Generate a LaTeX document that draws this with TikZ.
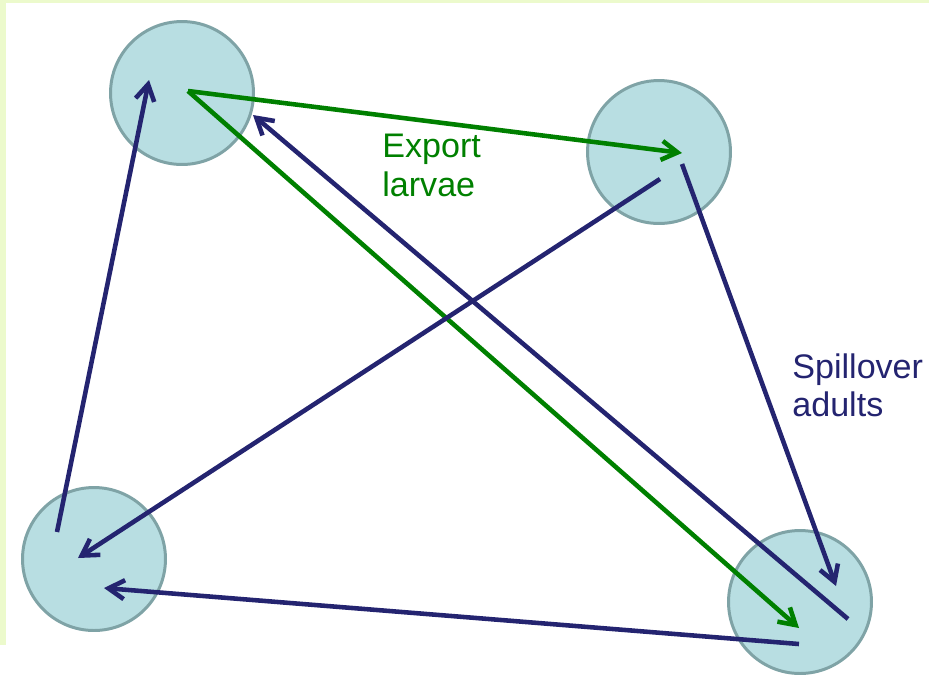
\documentclass[tikz,border=0pt]{standalone}
\usepackage{fontspec}
\setmainfont{Liberation Sans}
\usetikzlibrary{arrows.meta}
\definecolor{patchfill}{RGB}{184,222,226}
\definecolor{patchedge}{RGB}{127,163,166}
\definecolor{adultnavy}{RGB}{36,36,112}
\definecolor{larvagreen}{RGB}{0,128,0}
\definecolor{bandgreen}{RGB}{236,250,204}

\tikzset{
  patch/.style={circle, fill=patchfill, draw=patchedge, line width=1.7pt,
    minimum size=\patchsize, inner sep=0pt},
  adultflow/.style={adultnavy, line width=2.6pt, -{Straight Barb[length=3.2mm,width=3.8mm]}},
  larvaflow/.style={larvagreen, line width=2.6pt, -{Straight Barb[length=3.2mm,width=3.8mm]}},
  flowlabel/.style={anchor=base west, inner sep=0pt, align=left,
    font=\fontsize{19.4}{19.4}\selectfont}
}

\begin{document}
\begin{tikzpicture}[x=0.02cm, y=-0.02cm]

  % Parameters
  \def\patchsize{2.86cm}
  \useasboundingbox (0,0) rectangle (929,674);

  % slide border
  \fill[bandgreen] (0,0) rectangle (929,3);
  \fill[bandgreen] (0,0) rectangle (6,645);

  % patches
  \node[patch] (nw) at (182,93) {};
  \node[patch] (ne) at (659,152) {};
  \node[patch] (sw) at (94,559) {};
  \node[patch] (se) at (800,602) {};

  % end points inside the patches
  \coordinate (nw-out) at ([shift={(6,-2)}]nw.center);
  \coordinate (nw-in1) at ([shift={(71,22)}]nw.center);
  \coordinate (nw-in2) at ([shift={(-33,-13)}]nw.center);
  \coordinate (ne-in)  at ([shift={(23,1)}]ne.center);
  \coordinate (ne-out1) at ([shift={(23,12)}]ne.center);
  \coordinate (ne-out2) at ([shift={(1,27)}]ne.center);
  \coordinate (sw-out) at ([shift={(-37,-27)}]sw.center);
  \coordinate (sw-in1) at ([shift={(-16,-1)}]sw.center);
  \coordinate (sw-in2) at ([shift={(10,29)}]sw.center);
  \coordinate (se-in1) at ([shift={(-1,26)}]se.center);
  \coordinate (se-in2) at ([shift={(36,-16)}]se.center);
  \coordinate (se-out1) at ([shift={(48,17)}]se.center);
  \coordinate (se-out2) at ([shift={(-1,42)}]se.center);

  % larvae export
  \draw[larvaflow] (nw-out) -- (ne-in);
  \draw[larvaflow] (nw-out) -- (se-in1);

  % adult spillover
  \draw[adultflow] (se-out1) -- (nw-in1);
  \draw[adultflow] (ne-out1) -- (se-in2);
  \draw[adultflow] (ne-out2) -- (sw-in1);
  \draw[adultflow] (se-out2) -- (sw-in2);
  \draw[adultflow] (sw-out) -- (nw-in2);

  % labels
  \node[flowlabel, text=larvagreen] (exportlbl) at (382,196) {Export\\[2.8pt]larvae};
  \node[flowlabel, text=adultnavy] (spilllbl) at (792,416) {Spillover\\[1.7pt]adults};

\end{tikzpicture}
\end{document}
